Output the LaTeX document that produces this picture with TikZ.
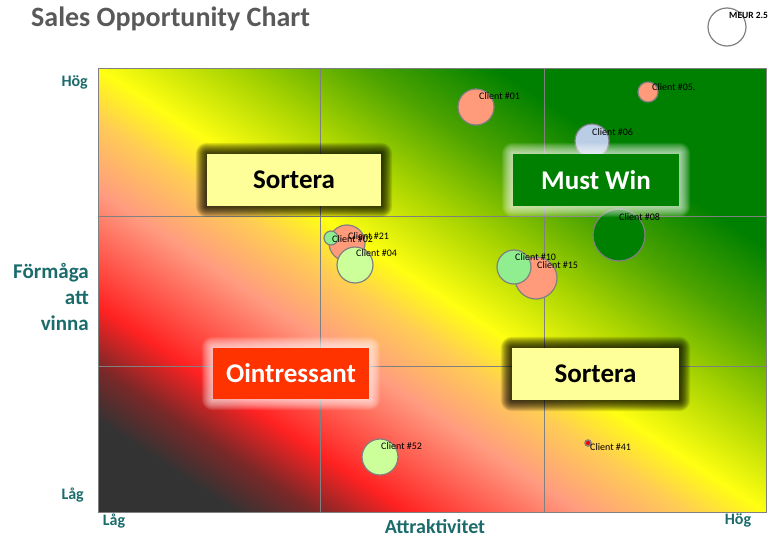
\documentclass[tikz,border=0pt]{standalone}
\usepackage{fontspec}
\setmainfont{Carlito}
\usetikzlibrary{calc}
\definecolor{dgrey}{HTML}{333333}
\definecolor{dred}{HTML}{7A2828}
\definecolor{gred}{HTML}{FF2222}
\definecolor{gsalmon}{HTML}{FF9B80}
\definecolor{gorange}{HTML}{FFCC55}
\definecolor{gyellow}{HTML}{FFFF11}
\definecolor{gyg}{HTML}{A8D400}
\definecolor{glg}{HTML}{4CA300}
\definecolor{ggreen}{HTML}{008000}
\definecolor{bubgrey}{HTML}{808080}
\definecolor{salmon}{HTML}{FF9B7B}
\definecolor{lblue}{HTML}{B9CDE5}
\definecolor{lgreen}{HTML}{90EE90}
\definecolor{pgreen}{HTML}{CCFF99}
\definecolor{teal}{HTML}{1B6B6B}
\definecolor{titlegrey}{HTML}{595959}
\definecolor{boxyellow}{HTML}{FFFF99}
\definecolor{boxred}{HTML}{FF3300}
\pgfdeclarehorizontalshading{plotgrad}{100bp}{color(0bp)=(dgrey); color(21.7bp)=(dgrey); color(26bp)=(dred); color(30.9bp)=(gred); color(40.1bp)=(gsalmon); color(45.8bp)=(gorange); color(50bp)=(gyellow); color(57.1bp)=(gyg); color(64.1bp)=(glg); color(71.2bp)=(ggreen); color(100bp)=(ggreen)}
\pgfdeclarelayer{bg}
\pgfdeclarelayer{glow}
\pgfsetlayers{bg,glow,main}
\tikzset{
  bub/.style={circle, draw=bubgrey, line width=1.2pt, inner sep=0pt},
  lab/.style={anchor=west, inner sep=0pt, font=\fontsize{10}{12}\selectfont, text=black},
  axl/.style={inner sep=0pt, font=\fontsize{16}{19}\selectfont\bfseries, text=teal},
  axt/.style={inner sep=0pt, font=\fontsize{21}{26}\selectfont\bfseries, text=teal},
  qbox/.style={inner sep=0pt, font=\fontsize{27}{32}\selectfont\bfseries},
  gridln/.style={draw=bubgrey, line width=0.8pt}
}
\newcommand\myglow[3]{%
  \foreach \k in {1,...,11}{%
    \fill[#2, opacity=#3, rounded corners=\k pt] ($(#1.north west)+(-\k,-\k)$) rectangle ($(#1.south east)+(\k,\k)$);}}
\begin{document}
\begin{tikzpicture}[x=1pt,y=-1pt]
\useasboundingbox (0,0) rectangle (772,538);
% title and legend
\node[anchor=base west, inner sep=0pt, font=\fontsize{28}{33}\selectfont\bfseries, text=titlegrey] (title) at (31,27) {Sales Opportunity Chart};
\node[circle, draw=bubgrey, line width=1.2pt, minimum size=38pt, inner sep=0pt] (leg) at (727,27) {};
\node[anchor=west, inner sep=0pt, font=\fontsize{9.5}{11}\selectfont\bfseries] (legl) at (729,15) {MEUR 2.5};
\begin{pgfonlayer}{bg}
\begin{scope}[transform canvas={shift={(432,290)}, yscale=0.66467}]
\fill[shading=plotgrad, shading angle=45] (-334,-334) rectangle (334,334);
\end{scope}
\draw[gridln] (320,68) -- (320,512);
\draw[gridln] (544,68) -- (544,512);
\draw[gridln] (98,216) -- (766,216);
\draw[gridln] (98,366) -- (766,366);
\draw[draw=bubgrey, line width=1pt] (98,68) rectangle (766,512);
% bubbles
\node[bub, fill=salmon, minimum size=36pt] (c01) at (476,107) {};
\node[bub, fill=salmon, minimum size=20pt] (c05) at (648,92) {};
\node[bub, fill=lblue, minimum size=34pt] (c06) at (592,141) {};
\node[bub, fill=ggreen, minimum size=52pt] (c08) at (619,235) {};
\node[bub, fill=salmon, minimum size=42pt] (c15) at (536,278) {};
\node[bub, fill=lgreen, minimum size=34pt] (c10) at (514,267) {};
\node[bub, fill=salmon, minimum size=36pt] (c21) at (347,243) {};
\node[bub, fill=lgreen, minimum size=14pt] (c02) at (331,238) {};
\node[bub, fill=pgreen, minimum size=36pt] (c04) at (355,265) {};
\node[bub, fill=pgreen, minimum size=36pt] (c52) at (380,457) {};
\node[circle, draw=bubgrey, line width=1.5pt, fill=red, minimum size=6pt, inner sep=0pt] (c41) at (588,443) {};
\end{pgfonlayer}
% quadrant boxes
\node[qbox, fill=boxyellow, text=black, minimum width=174pt, minimum height=52pt] (q1) at (294,180) {Sortera};
\node[qbox, fill=ggreen, text=white, minimum width=166pt, minimum height=52pt] (q2) at (596,180) {Must Win};
\node[qbox, fill=boxred, text=white, minimum width=156pt, minimum height=51pt] (q3) at (291,373.5) {Ointressant};
\node[qbox, fill=boxyellow, text=black, minimum width=167pt, minimum height=52pt] (q4) at (595.5,374) {Sortera};
\begin{pgfonlayer}{glow}
\myglow{q1}{black}{0.11}
\myglow{q4}{black}{0.11}
\myglow{q2}{white}{0.09}
\myglow{q3}{white}{0.09}
\end{pgfonlayer}
% labels
\node[lab] (l01) at (479,96) {Client \#01};
\node[lab] (l05) at (652,87) {Client \#05.};
\node[lab] (l06) at (592,132) {Client \#06};
\node[lab] (l08) at (619,217) {Client \#08};
\node[lab] (l10) at (515,257) {Client \#10};
\node[lab] (l15) at (537,265) {Client \#15};
\node[lab] (l21) at (348,236) {Client \#21};
\node[lab] (l02) at (332,239) {Client \#02};
\node[lab] (l04) at (356,253) {Client \#04};
\node[lab] (l52) at (381,446) {Client \#52};
\node[lab] (l41) at (590,447) {Client \#41};
% axis labels
\node[axl, anchor=east] (yh) at (88,82) {Hög};
\node[axl, anchor=east] (yl) at (84,495) {Låg};
\node[axt, align=right, anchor=east] (yt) at (89,297) {Förmåga\\att\\vinna};
\node[axl] (xl) at (114,521) {Låg};
\node[axl] (xh) at (738,520) {Hög};
\node[axt, font=\fontsize{20}{24}\selectfont\bfseries] (xt) at (435,527) {Attraktivitet};
\end{tikzpicture}
\end{document}
